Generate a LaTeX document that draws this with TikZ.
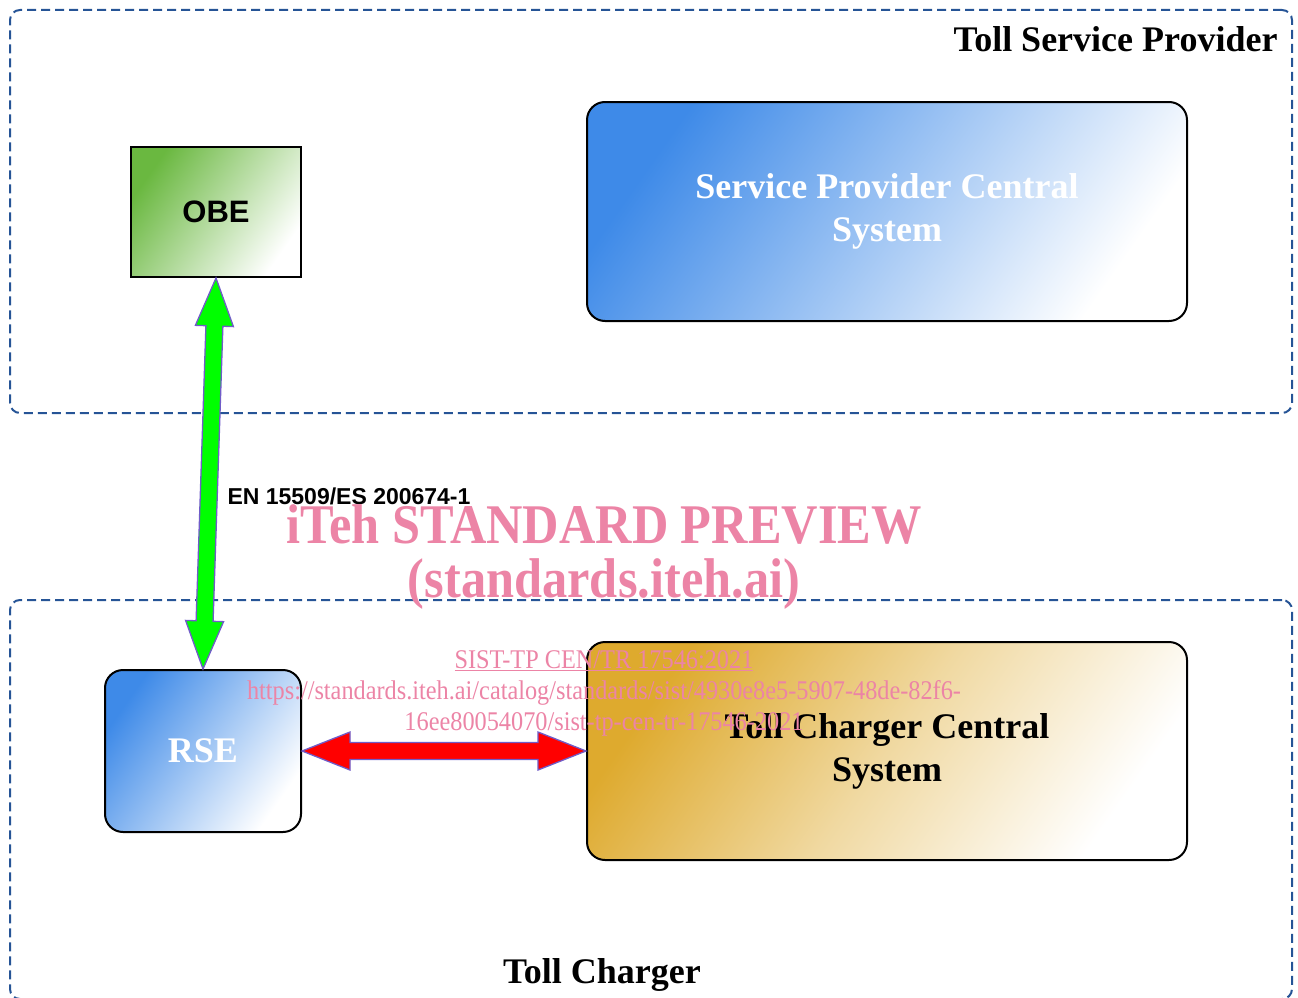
\documentclass[tikz,border=0pt]{standalone}
\usepackage{fontspec}
\setmainfont{Liberation Serif}
\newfontfamily\labelfont{Liberation Sans}
\newfontfamily\markfont[FakeStretch=0.9]{Liberation Serif}
\usetikzlibrary{calc}

\definecolor{zoneblue}{RGB}{38,84,150}
\definecolor{sysblue}{RGB}{62,138,232}
\definecolor{sysgold}{RGB}{222,170,46}
\definecolor{obegreen}{RGB}{106,184,64}
\definecolor{linkedge}{RGB}{112,92,200}
\definecolor{markpink}{RGB}{236,132,166}

\tikzset{
  zone/.style={draw=zoneblue, line width=2pt, dash pattern=on 9pt off 5pt,
    rounded corners=10pt, inner sep=0pt},
  zonetitle/.style={font=\fontsize{36}{43}\selectfont\bfseries},
  system/.style={draw=black, line width=2pt, rounded corners=18pt,
    align=center, font=\fontsize{36}{43}\selectfont\bfseries},
  bluesys/.style={system, top color=sysblue, bottom color=white,
    middle color=sysblue!50!white, shading angle=55, text=white},
  goldsys/.style={system, top color=sysgold, bottom color=white,
    middle color=sysgold!45!white, shading angle=55},
  device/.style={draw=black, line width=2pt, minimum width=170pt,
    minimum height=130pt, top color=obegreen, bottom color=white,
    shading angle=55, font=\labelfont\fontsize{31}{36}\selectfont\bfseries},
  link/.style={draw=linkedge, line width=1.3pt},
  wmbig/.style={text=markpink, font=\markfont\fontsize{56}{60}\selectfont\bfseries},
  wmsmall/.style={text=markpink, font=\markfont\fontsize{27}{31}\selectfont},
}

% thick two-headed arrow between two anchors
\newcommand{\fatlink}[3]{%
  \coordinate (fl-a) at ($(#2)!48pt!(#3)$);
  \coordinate (fl-b) at ($(#3)!48pt!(#2)$);
  \filldraw[#1] (#2) -- ($(fl-a)!19pt!90:(#3)$) -- ($(fl-a)!8.5pt!90:(#3)$)
    -- ($(fl-b)!8.5pt!-90:(#2)$) -- ($(fl-b)!19pt!-90:(#2)$) -- (#3)
    -- ($(fl-b)!19pt!90:(#2)$) -- ($(fl-b)!8.5pt!90:(#2)$)
    -- ($(fl-a)!8.5pt!-90:(#3)$) -- ($(fl-a)!19pt!-90:(#3)$) -- cycle;}

\begin{document}
\begin{tikzpicture}[x=1pt, y=-1pt]
  \useasboundingbox (0,0) rectangle (1298,998);

  % the two domains
  \node[zone, minimum width=1282pt, minimum height=403pt] (tsp) at (651,211.5) {};
  \node[zonetitle, anchor=base east] (tsptitle) at (1281,52) {Toll Service Provider};
  \node[zone, minimum width=1282pt, minimum height=399pt] (tc) at (651,799.5) {};
  \node[zonetitle, anchor=base] (tctitle) at (602,983) {Toll Charger};

  % systems
  \node[bluesys, minimum width=600pt, minimum height=219pt] (spcs) at (887,211.5)
    {Service Provider Central\\System};
  \node[goldsys, minimum width=600pt, minimum height=218pt] (tccs) at (887,751)
    {Toll Charger Central\\System};
  \node[bluesys, minimum width=196pt, minimum height=162pt] (rse) at (203,751) {RSE};
  \node[device] (obe) at (216,212) {OBE};

  % interfaces
  \fatlink{link, fill=green}{obe.south}{rse.north}
  \fatlink{link, fill=red}{rse.east}{tccs.west}
  \node[anchor=base west, font=\labelfont\fontsize{23}{26}\selectfont\bfseries]
    (enlabel) at (224,504) {EN 15509/ES 200674-1};

  % preview stamp
  \node[wmbig] (wm1) at (604,524) {iTeh STANDARD PREVIEW};
  \node[wmbig] (wm2) at (604,584) {(standards.iteh.ai)};
  \node[wmsmall] (wm3) at (604,661) {\underline{SIST-TP CEN/TR 17546:2021}};
  \node[wmsmall] (wm4) at (604,693)
    {https://standards.iteh.ai/catalog/standards/sist/4930e8e5-5907-48de-82f6-};
  \node[wmsmall] (wm5) at (604,724) {16ee80054070/sist-tp-cen-tr-17546-2021};
\end{tikzpicture}
\end{document}
